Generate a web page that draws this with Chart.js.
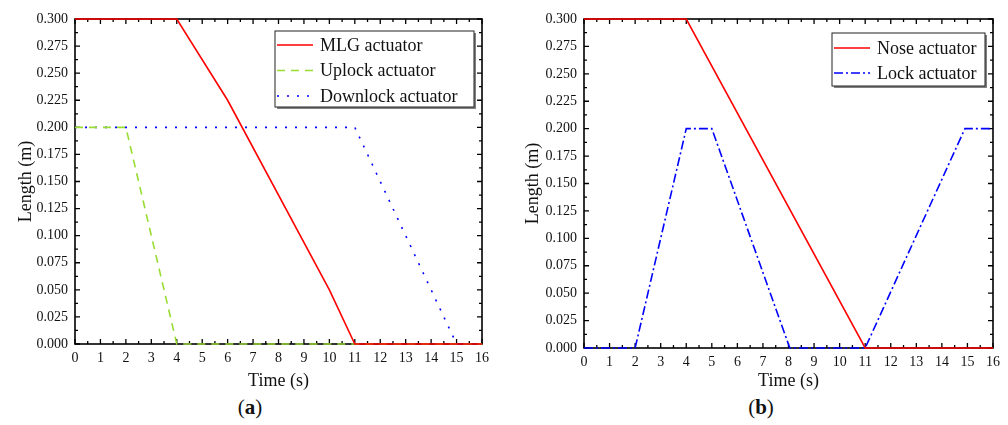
<!DOCTYPE html>
<html>
<head>
<meta charset="utf-8">
<script src="https://cdn.jsdelivr.net/npm/chart.js@4/dist/chart.umd.min.js"></script>
<style>
  body { margin: 0; background: #fff; }
  .page { position: relative; width: 1008px; height: 425px; background: #fff; font-family: 'Liberation Serif', serif; }
  .panel { position: absolute; top: 0; height: 395px; }
  .tag { position: absolute; top: 395px; font-size: 21px; color: #111; transform: translateX(-50%); }
</style>
</head>
<body>
<div class="page">
  <div class="panel" style="left:0;width:500px"><canvas id="chartA"></canvas></div>
  <div class="panel" style="left:500px;width:508px"><canvas id="chartB"></canvas></div>
  <div class="tag" style="left:250px">(<b>a</b>)</div>
  <div class="tag" style="left:761px">(<b>b</b>)</div>
</div>
<script>
// panel (a)
const mlgTime = [0, 4, 6, 10, 11, 16];
const mlgLen = [0.3, 0.3, 0.225, 0.05, 0, 0];
const uplockTime = [0, 2, 4, 16];
const uplockLen = [0.2, 0.2, 0, 0];
const downlockTime = [0, 11, 15, 16];
const downlockLen = [0.2, 0.2, 0, 0];

// panel (b)
const noseTime = [0, 4, 11, 16];
const noseLen = [0.3, 0.3, 0, 0];
const lockTime = [0, 2, 4, 5, 8.05, 11, 14.9, 16];
const lockLen = [0, 0, 0.2, 0.2, 0, 0, 0.2, 0.2];

const xTicks = [0, 1, 2, 3, 4, 5, 6, 7, 8, 9, 10, 11, 12, 13, 14, 15, 16];
const yTicks = [0, 0.025, 0.05, 0.075, 0.1, 0.125, 0.15, 0.175, 0.2, 0.225, 0.25, 0.275, 0.3];

const FONT = "'Liberation Serif', serif";

function pts(xs, ys) {
  return xs.map((x, i) => ({ x, y: ys[i] }));
}

// frame with inward ticks on all four sides, under the lines;
// boxed legend inside the plot, over the lines
const framePlugin = {
  id: 'frame',
  beforeDatasetsDraw(chart) {
    const { ctx, chartArea: a, scales } = chart;
    const xs = scales.x, ys = scales.y;
    ctx.save();
    ctx.strokeStyle = '#000';
    ctx.lineWidth = 1.3;
    ctx.beginPath();
    for (let v = 0; v <= 16.001; v += 0.5) {
      const px = xs.getPixelForValue(v);
      const len = Math.abs(v - Math.round(v)) < 1e-6 ? 5 : 3;
      ctx.moveTo(px, a.bottom); ctx.lineTo(px, a.bottom - len);
      ctx.moveTo(px, a.top); ctx.lineTo(px, a.top + len);
    }
    for (let i = 0; i <= 24; i++) {
      const py = ys.getPixelForValue(i * 0.0125);
      const len = i % 2 === 0 ? 5 : 3;
      ctx.moveTo(a.left, py); ctx.lineTo(a.left + len, py);
      ctx.moveTo(a.right, py); ctx.lineTo(a.right - len, py);
    }
    ctx.stroke();
    ctx.lineWidth = 1.6;
    ctx.strokeRect(a.left, a.top, a.right - a.left, a.bottom - a.top);
    ctx.restore();
  },
  afterDatasetsDraw(chart) {
    const lg = chart.options.plugins.boxLegend;
    if (!lg) return;
    const { ctx, chartArea: a } = chart;
    const x0 = a.right - lg.right - lg.width;
    const y0 = a.top + lg.top;
    const h = lg.height;
    ctx.save();
    ctx.fillStyle = '#808080';
    ctx.fillRect(x0 + 2, y0 + 2, lg.width, h);
    ctx.fillStyle = '#fff';
    ctx.fillRect(x0, y0, lg.width, h);
    ctx.strokeStyle = '#222';
    ctx.lineWidth = 1;
    ctx.strokeRect(x0, y0, lg.width, h);
    ctx.font = '18px ' + FONT;
    ctx.textBaseline = 'middle';
    chart.data.datasets.forEach((ds, i) => {
      const cy = y0 + lg.first + lg.rowH * i;
      ctx.strokeStyle = ds.borderColor;
      ctx.lineWidth = ds.borderWidth;
      ctx.setLineDash(ds.borderDash || []);
      ctx.beginPath();
      ctx.moveTo(x0 + 2, cy);
      ctx.lineTo(x0 + 38, cy);
      ctx.stroke();
      ctx.setLineDash([]);
      ctx.fillStyle = '#111';
      ctx.fillText(ds.label, x0 + 45, cy + 1);
    });
    ctx.restore();
  },
};

function makeChart(id, datasets, pad, yWidth, xHeight, titleLeftPad, legend) {
  return new Chart(document.getElementById(id), {
    type: 'line',
    data: { datasets },
    plugins: [framePlugin],
    options: {
      responsive: true,
      maintainAspectRatio: false,
      animation: false,
      layout: { padding: pad },
      elements: { point: { radius: 0 }, line: { tension: 0 } },
      plugins: {
        legend: { display: false },
        tooltip: { enabled: false },
        boxLegend: legend,
      },
      scales: {
        x: {
          type: 'linear',
          min: 0,
          max: 16,
          afterFit: (s) => { s.height = xHeight; },
          afterBuildTicks: (s) => { s.ticks = xTicks.map((v) => ({ value: v })); },
          grid: { display: false, drawTicks: false },
          border: { display: false },
          ticks: { color: '#111', padding: 6, maxRotation: 0, font: { family: FONT, size: 14 } },
          title: { display: true, text: 'Time (s)', color: '#111', padding: { top: 0, bottom: 3 }, font: { family: FONT, size: 18, lineHeight: 1.2 } },
        },
        y: {
          min: 0,
          max: 0.3,
          afterFit: (s) => { s.width = yWidth; },
          afterBuildTicks: (s) => { s.ticks = yTicks.map((v) => ({ value: v })); },
          grid: { display: false, drawTicks: false },
          border: { display: false },
          ticks: { color: '#111', padding: 7, font: { family: FONT, size: 14 }, callback: (v) => Number(v).toFixed(3) },
          title: { display: true, text: 'Length (m)', color: '#111', padding: { top: titleLeftPad, bottom: 0 }, font: { family: FONT, size: 18, lineHeight: 1.2 } },
        },
      },
    },
  });
}

makeChart('chartA', [
  { label: 'MLG actuator', data: pts(mlgTime, mlgLen), borderColor: '#ff0000', borderWidth: 1.6, clip: 3, order: 0 },
  { label: 'Uplock actuator', data: pts(uplockTime, uplockLen), borderColor: '#99dd33', borderWidth: 1.6, borderDash: [8, 6], clip: 3, order: 1 },
  { label: 'Downlock actuator', data: pts(downlockTime, downlockLen), borderColor: '#0000ff', borderWidth: 1.6, borderDash: [2, 8], clip: 3, order: 2 },
], { left: 10, right: 18, top: 19, bottom: 0 }, 65, 51, 5, { right: 8, top: 12, width: 199, height: 76, first: 14, rowH: 25.5 });

makeChart('chartB', [
  { label: 'Nose actuator', data: pts(noseTime, noseLen), borderColor: '#ff0000', borderWidth: 1.6, clip: 3, order: 0 },
  { label: 'Lock actuator', data: pts(lockTime, lockLen), borderColor: '#0000ff', borderWidth: 1.6, borderDash: [9, 3, 2, 3], clip: 3, order: 1 },
], { left: 10, right: 15, top: 19, bottom: 0 }, 74, 47, 12, { right: 8, top: 14, width: 153, height: 53, first: 15, rowH: 25 });
</script>
</body>
</html>
